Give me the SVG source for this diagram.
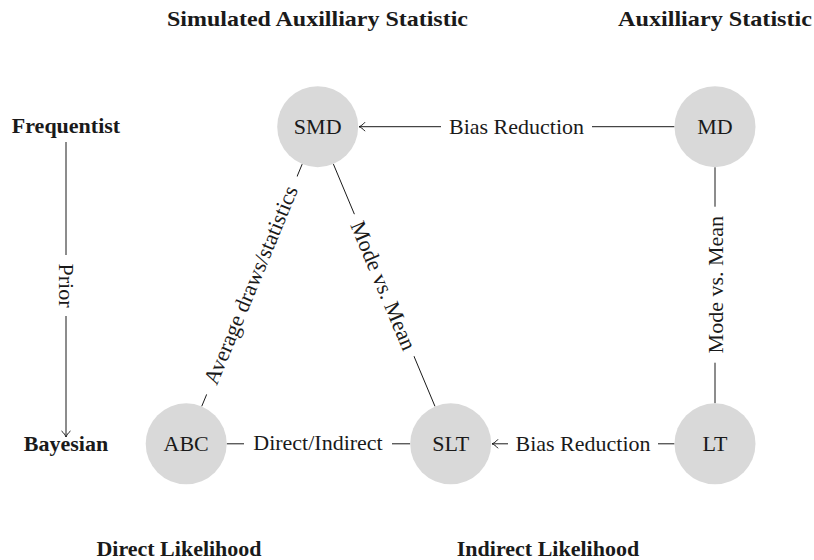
<svg xmlns="http://www.w3.org/2000/svg" width="814" height="560" viewBox="0 0 814 560">
<defs>
<style>
.node circle{fill:#d9d9d9;stroke:none}
.node text,.lbl text{font-family:"Liberation Serif","Times New Roman",serif;font-size:22px;fill:#1a1a1a;text-anchor:middle}
.title{font-family:"Liberation Serif","Times New Roman",serif;font-size:22px;font-weight:bold;fill:#1a1a1a;text-anchor:middle}
.edge{stroke:#1a1a1a;stroke-width:1;fill:none}
.lbl rect{fill:#fff;stroke:none}
</style>
<marker id="to" viewBox="-8 -6 10 12" refX="0" refY="0" markerWidth="10" markerHeight="12" markerUnits="userSpaceOnUse" orient="auto">
<path d="M-6,-4.5 C-4,-2 -1.6,-0.6 0,0 C-1.6,0.6 -4,2 -6,4.5" fill="none" stroke="#1a1a1a" stroke-width="1"/>
</marker>
</defs>
<rect width="814" height="560" fill="#fff"/>

<g id="titles">
<text class="title" x="317.5" y="26" textLength="301" lengthAdjust="spacingAndGlyphs">Simulated Auxilliary Statistic</text>
<text class="title" x="715" y="26" textLength="194" lengthAdjust="spacingAndGlyphs">Auxilliary Statistic</text>
<text class="title" x="66" y="133">Frequentist</text>
<text class="title" x="66" y="450.5">Bayesian</text>
<text class="title" x="179" y="556">Direct Likelihood</text>
<text class="title" x="548" y="556">Indirect Likelihood</text>
</g>

<g id="connectors">
<line class="edge" x1="66" y1="142" x2="66" y2="437" marker-end="url(#to)"/>
<line class="edge" x1="674.5" y1="126.7" x2="359" y2="126.7" marker-end="url(#to)"/>
<line class="edge" x1="674.5" y1="443.8" x2="492" y2="443.8" marker-end="url(#to)"/>
<line class="edge" x1="715" y1="167.2" x2="715" y2="403.3"/>
<line class="edge" x1="302.2" y1="164.1" x2="201.7" y2="406.4"/>
<line class="edge" x1="333.4" y1="164.1" x2="435" y2="406.4"/>
<line class="edge" x1="226.7" y1="443.8" x2="410.2" y2="443.8"/>

<g class="lbl" transform="translate(66 285.5) rotate(90)">
<rect x="-30.5" y="-13" width="61" height="26"/>
<text x="0" y="7.5">Prior</text>
</g>
<g class="lbl" transform="translate(516.5 126.7)">
<rect x="-75.5" y="-13" width="151" height="26"/>
<text x="0" y="7.5">Bias Reduction</text>
</g>
<g class="lbl" transform="translate(583 443.8)">
<rect x="-75" y="-13" width="150" height="26"/>
<text x="0" y="7.5">Bias Reduction</text>
</g>
<g class="lbl" transform="translate(318 443.8)">
<rect x="-74" y="-13" width="148" height="26"/>
<text x="0" y="6">Direct/Indirect</text>
</g>
<g class="lbl" transform="translate(715 284.7) rotate(-90)">
<rect x="-78" y="-13" width="156" height="26"/>
<text x="0" y="7.5">Mode vs. Mean</text>
</g>
<g class="lbl" transform="translate(252 285.5) rotate(-67.5)">
<rect x="-118" y="-13" width="236" height="26"/>
<text x="0" y="6">Average draws/statistics</text>
</g>
<g class="lbl" transform="translate(383.5 285.5) rotate(67.25)">
<rect x="-77" y="-13" width="154" height="26"/>
<text x="0" y="7.5">Mode vs. Mean</text>
</g>
</g>

<g id="node-SMD" class="node">
<circle cx="317.7" cy="126.7" r="40.5"/>
<text x="317.7" y="134">SMD</text>
</g>
<g id="node-MD" class="node">
<circle cx="715" cy="126.7" r="40.5"/>
<text x="715" y="134">MD</text>
</g>
<g id="node-ABC" class="node">
<circle cx="186.2" cy="443.8" r="40.5"/>
<text x="186.2" y="451.2">ABC</text>
</g>
<g id="node-SLT" class="node">
<circle cx="450.7" cy="443.8" r="40.5"/>
<text x="450.7" y="451.2">SLT</text>
</g>
<g id="node-LT" class="node">
<circle cx="715" cy="443.8" r="40.5"/>
<text x="715" y="451.2">LT</text>
</g>
</svg>
